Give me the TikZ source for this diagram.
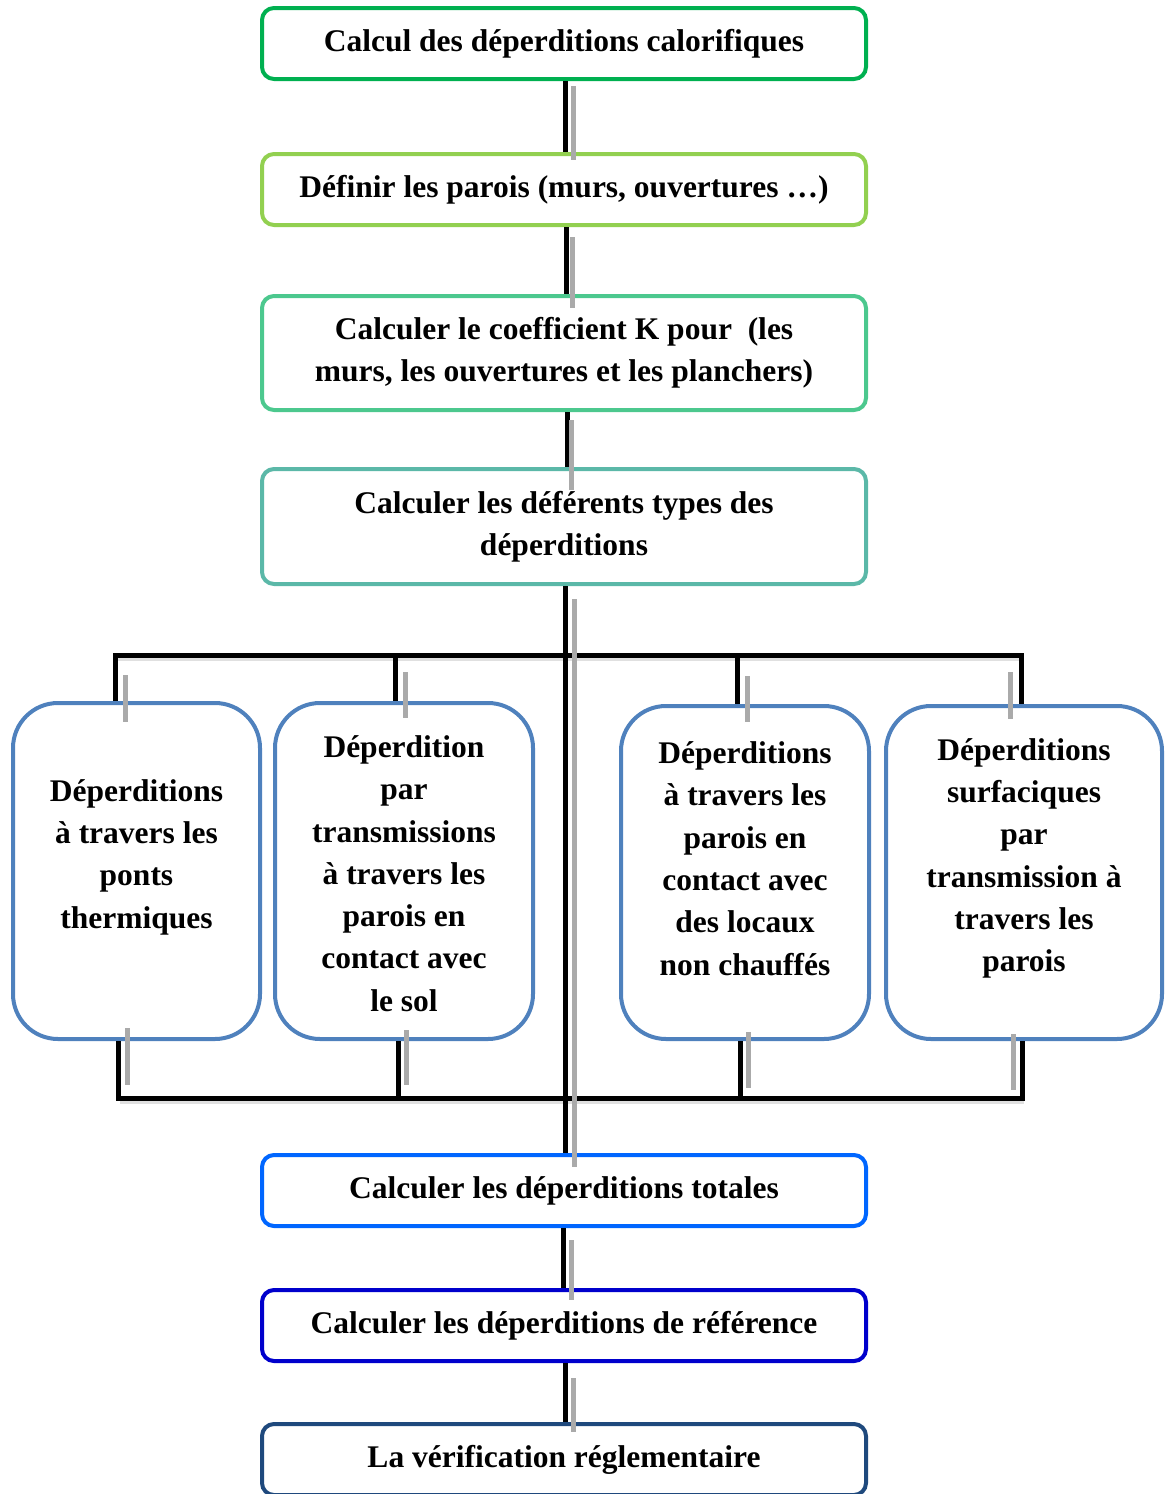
\documentclass[tikz,border=0pt]{standalone}
\usepackage{fontspec}
\setmainfont{Liberation Serif}
\definecolor{cOne}{HTML}{00B050}
\definecolor{cTwo}{HTML}{92D050}
\definecolor{cThree}{HTML}{4CC88E}
\definecolor{cFour}{HTML}{5BB8A8}
\definecolor{cBlue}{HTML}{4F81BD}
\definecolor{cSix}{HTML}{0066FF}
\definecolor{cSeven}{HTML}{0000CC}
\definecolor{cEight}{HTML}{1F497D}
\definecolor{cGray}{HTML}{AAAAAA}
\begin{document}
\begin{tikzpicture}[x=1pt,y=-1pt,
  txt/.style={font=\fontsize{31.5pt}{42.3pt}\selectfont\bfseries, align=center, inner sep=0pt},
  wide/.style={draw=#1, line width=4pt, rounded corners=12pt, minimum width=604pt, inner sep=0pt,
     font=\fontsize{31.5pt}{42.3pt}\selectfont\bfseries, align=center},
  tall/.style={draw=cBlue, line width=4pt, rounded corners=45pt, inner sep=0pt},
  blk/.style={line width=5pt, black},
  shd/.style={line width=5pt, black!12},
  gry/.style={line width=5pt, cGray}]
\useasboundingbox (0,0) rectangle (1166,1494);

% main boxes
\node[wide=cOne, minimum height=71pt] (b1) at (564,43.5) {Calcul des déperditions calorifiques};
\node[wide=cTwo, minimum height=71pt] (b2) at (564,189.5) {Définir les parois (murs, ouvertures …)};
\node[wide=cThree, minimum height=114pt] (b3) at (564,353) {Calculer le coefficient K pour~~(les\\murs, les ouvertures et les planchers)};
\node[wide=cFour, minimum height=115pt] (b4) at (564,526.5) {Calculer les déférents types des\\déperditions};
\node[wide=cSix, minimum height=71pt] (b6) at (564,1190.5) {Calculer les déperditions totales};
\node[wide=cSeven, minimum height=71pt] (b7) at (564,1325.5) {Calculer les déperditions de référence};
\node[wide=cEight, minimum height=71pt] (b8) at (564,1459.5) {La vérification réglementaire};

% tall boxes
\node[tall, minimum width=247pt, minimum height=336pt] (bA) at (136.5,871) {};
\node[tall, minimum width=258pt, minimum height=336pt] (bB) at (404,871) {};
\node[tall, minimum width=248pt, minimum height=333pt] (bC) at (745,872.5) {};
\node[tall, minimum width=276pt, minimum height=333pt] (bD) at (1024,872.5) {};
\node[txt] (tA) at (136.5,857) {Déperditions\\à travers les\\ponts\\thermiques};
\node[txt] (tB) at (404,873.5) {Déperdition\\par\\transmissions\\à travers les\\parois en\\contact avec\\le sol};
\node[txt] (tC) at (745,858.5) {Déperditions\\à travers les\\parois en\\contact avec\\des locaux\\non chauffés};
\node[txt] (tD) at (1024,858.5) {Déperditions\\surfaciques\\par\\transmission à\\travers les\\parois};

% junction coordinates
\coordinate (uA) at (115,655);
\coordinate (uB) at (395,655);
\coordinate (uC) at (737,655);
\coordinate (uD) at (1021,655);
\coordinate (dA) at (118,1098);
\coordinate (dB) at (398,1098);
\coordinate (dC) at (740,1098);
\coordinate (dD) at (1022,1098);

% soft shadows of horizontal bars
\draw[shd] ([xshift=2pt,yshift=-3pt]uA) -- ([xshift=2pt,yshift=-3pt]uD);
\draw[shd] ([xshift=2pt,yshift=-3pt]dA) -- ([xshift=2pt,yshift=-3pt]dD);

% black connectors
\draw[blk] (b1.south -| 565,0) -- (b2.north -| 565,0);
\draw[blk] (b2.south -| 566,0) -- (b3.north -| 566,0);
\draw[blk] (b3.south -| 567,0) -- (b4.north -| 567,0);
\draw[blk] (b4.south -| 565,0) -- (b6.north -| 565,0);
\draw[blk] (b6.south -| 563,0) -- (b7.north -| 563,0);
\draw[blk] (b7.south -| 565,0) -- (b8.north -| 565,0);
\draw[blk, line join=miter] (uA |- bA.north) -- (uA) -- (uD) -- (uD |- bD.north);
\draw[blk] (uB) -- (uB |- bB.north);
\draw[blk] (uC) -- (uC |- bC.north);
\draw[blk, line join=miter] (dA |- bA.south) -- (dA) -- (dD) -- (dD |- bD.south);
\draw[blk] (dB |- bB.south) -- (dB);
\draw[blk] (dC |- bC.south) -- (dC);

% gray offset strokes
\draw[gry] (573,86) -- (573,160);
\draw[gry] (572,237) -- (572,308);
\draw[gry] (571,420) -- (571,490);
\draw[gry] (574.5,599) -- (574.5,1167);
\draw[gry] (571,1240) -- (571,1300);
\draw[gry] (573,1378) -- (573,1432);
\draw[gry] (125,675) -- (125,722);
\draw[gry] (405,672) -- (405,718);
\draw[gry] (747,676) -- (747,722);
\draw[gry] (1010,672) -- (1010,719);
\draw[gry] (127.5,1028) -- (127.5,1085);
\draw[gry] (406,1030) -- (406,1085);
\draw[gry] (748,1032) -- (748,1088);
\draw[gry] (1013,1034) -- (1013,1090);
\end{tikzpicture}
\end{document}
